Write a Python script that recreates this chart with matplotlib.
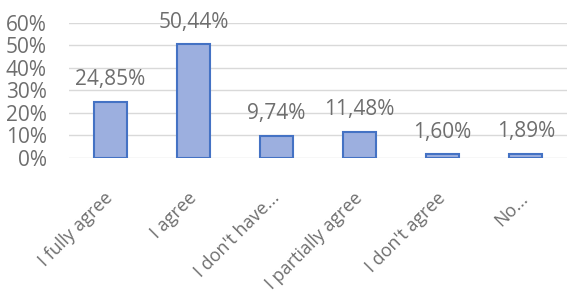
import numpy as np
import matplotlib.pyplot as plt
from matplotlib.colors import LinearSegmentedColormap

categories = ["I fully agree", "I agree", "I don't have...", "I partially agree",
              "I don't agree", "No..."]
values = [24.85, 50.44, 9.74, 11.48, 1.60, 1.89]
labels = ["24,85%", "50,44%", "9,74%", "11,48%", "1,60%", "1,89%"]
yticks = [0, 10, 20, 30, 40, 50, 60]

plt.rcParams['font.family'] = ['Open Sans', 'DejaVu Sans']
grey = '#6e6e6e'

fig = plt.figure(figsize=(5.69, 2.97), dpi=100)
ax = fig.add_axes([0.121, 0.468, 0.876, 0.455])

x = np.arange(len(categories))
bars = ax.bar(x, values, width=0.4, color='#9cafdf', edgecolor='#4472c4', linewidth=1.5, zorder=3)

# gradient fill inside bars
grad = np.linspace(0, 1, 100).reshape(-1, 1)
cmap = LinearSegmentedColormap.from_list('g', ['#8aa0d8', '#aebde4'])
for b in bars:
    im = ax.imshow(grad, cmap=cmap, aspect='auto', origin='lower',
                   extent=[b.get_x(), b.get_x() + b.get_width(), 0, b.get_height()], zorder=2.5)
    im.set_clip_path(b)

for xi, v, lab in zip(x, values, labels):
    ax.annotate(lab, (xi, v), xytext=(0, 12), textcoords='offset points',
                ha='center', va='baseline', fontsize=15, color=grey)

ax.set_xlim(-0.5, len(categories) - 0.5)
ax.set_ylim(0, 60)
ax.set_yticks(yticks)
ax.set_yticklabels([f"{t}%" for t in yticks], fontsize=15, color=grey)
ax.set_xticks(x)
ax.set_xticklabels(categories, rotation=45, ha='right', va='center', rotation_mode='anchor',
                   fontsize=13, color=grey)
ax.tick_params(length=0)
ax.tick_params(axis='y', pad=16)
ax.tick_params(axis='x', pad=27)
ax.grid(axis='y', color='#d9d9d9', linewidth=1, zorder=0)
for s in ax.spines.values():
    s.set_visible(False)

fig.savefig('out.png', dpi=100)
